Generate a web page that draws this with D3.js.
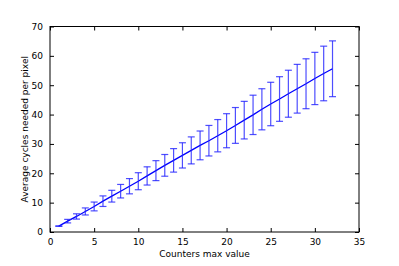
<!DOCTYPE html>
<html>
<head>
<meta charset="utf-8">
<script src="https://cdn.jsdelivr.net/npm/d3@7"></script>
<style>
  body { margin: 0; background: #fff; }
  text { font-family: "DejaVu Sans", sans-serif; }
</style>
</head>
<body>
<script>
// counters max value, average cycles, error half-width
var counters = [1, 2, 3, 4, 5, 6, 7, 8, 9, 10, 11, 12, 13, 14, 15, 16,
                17, 18, 19, 20, 21, 22, 23, 24, 25, 26, 27, 28, 29, 30, 31, 32];
var avg_cycles = [2.0, 3.7, 5.3, 7.0, 8.7, 10.5, 12.2, 13.9, 15.6, 17.3, 19.1, 20.9, 22.7, 24.4, 26.1, 27.8,
                  29.5, 31.1, 32.8, 34.5, 36.3, 38.1, 39.9, 41.8, 43.6, 45.3, 47.1, 48.8, 50.5, 52.3, 54.0, 55.6];
var err = [0.1, 0.6, 0.9, 1.2, 1.5, 1.8, 2.0, 2.3, 2.6, 2.9, 3.1, 3.4, 3.7, 4.0, 4.3, 4.6,
           4.9, 5.2, 5.5, 5.8, 6.1, 6.4, 6.7, 7.0, 7.4, 7.6, 8.0, 8.3, 8.5, 8.9, 9.3, 9.5];
var x_ticks = [0, 5, 10, 15, 20, 25, 30, 35];
var y_ticks = [0, 10, 20, 30, 40, 50, 60, 70];

var width = 399;
var height = 266;
// note: "top" is taken by window.top, so plot_* names
var plot_left = 50, plot_right = 359, plot_top = 26.5, plot_bottom = 232;

var svg = d3.select("body").append("svg")
  .attr("width", width)
  .attr("height", height);

var x = d3.scaleLinear().domain([0, 35]).range([plot_left, plot_right]);
var y = d3.scaleLinear().domain([0, 70]).range([plot_bottom, plot_top]);

var data = counters.map(function(c, i) {
  return { x: c, y: avg_cycles[i], e: err[i] };
});

// main line
var line = d3.line()
  .x(function(d) { return x(d.x); })
  .y(function(d) { return y(d.y); });

svg.append("path")
  .datum(data)
  .attr("d", line)
  .attr("fill", "none")
  .attr("stroke", "#0000ff")
  .attr("stroke-width", 1.3);

// error bars
var bars = svg.selectAll(".ebar")
  .data(data)
  .enter().append("g")
    .attr("class", "ebar")
    .attr("stroke", "#2222ff")
    .attr("stroke-opacity", 0.8)
    .attr("stroke-width", 1.2);

bars.append("line")
  .attr("x1", function(d) { return x(d.x); })
  .attr("x2", function(d) { return x(d.x); })
  .attr("y1", function(d) { return y(d.y - d.e); })
  .attr("y2", function(d) { return y(d.y + d.e); });

bars.append("line")
  .attr("x1", function(d) { return x(d.x) - 3.5; })
  .attr("x2", function(d) { return x(d.x) + 3.5; })
  .attr("y1", function(d) { return y(d.y + d.e); })
  .attr("y2", function(d) { return y(d.y + d.e); });

bars.append("line")
  .attr("x1", function(d) { return x(d.x) - 3.5; })
  .attr("x2", function(d) { return x(d.x) + 3.5; })
  .attr("y1", function(d) { return y(d.y - d.e); })
  .attr("y2", function(d) { return y(d.y - d.e); });

// axes, ticks inside on all four sides like matplotlib
svg.append("g")
  .attr("transform", "translate(0," + plot_bottom + ")")
  .call(d3.axisBottom(x).tickValues(x_ticks).tickSizeInner(-4).tickSizeOuter(0).tickPadding(7));
svg.append("g")
  .attr("transform", "translate(0," + plot_top + ")")
  .call(d3.axisTop(x).tickValues(x_ticks).tickSizeInner(-4).tickSizeOuter(0).tickFormat(""));
svg.append("g")
  .attr("transform", "translate(" + plot_left + ",0)")
  .call(d3.axisLeft(y).tickValues(y_ticks).tickSizeInner(-4).tickSizeOuter(0).tickPadding(7));
svg.append("g")
  .attr("transform", "translate(" + plot_right + ",0)")
  .call(d3.axisRight(y).tickValues(y_ticks).tickSizeInner(-4).tickSizeOuter(0).tickFormat(""));

svg.selectAll(".domain").remove();
svg.selectAll(".tick text")
  .attr("font-family", "DejaVu Sans, sans-serif")
  .attr("font-size", 9)
  .attr("fill", "#000");

// frame
svg.append("rect")
  .attr("x", plot_left)
  .attr("y", plot_top)
  .attr("width", plot_right - plot_left)
  .attr("height", plot_bottom - plot_top)
  .attr("fill", "none")
  .attr("stroke", "#000")
  .attr("stroke-width", 1);

svg.append("text")
  .attr("x", (plot_left + plot_right) / 2)
  .attr("y", 257)
  .attr("text-anchor", "middle")
  .attr("font-size", 9)
  .text("Counters max value");

svg.append("text")
  .attr("transform", "translate(28," + ((plot_top + plot_bottom) / 2) + ") rotate(-90)")
  .attr("text-anchor", "middle")
  .attr("font-size", 9)
  .text("Average cycles needed per pixel");
</script>
</body>
</html>
